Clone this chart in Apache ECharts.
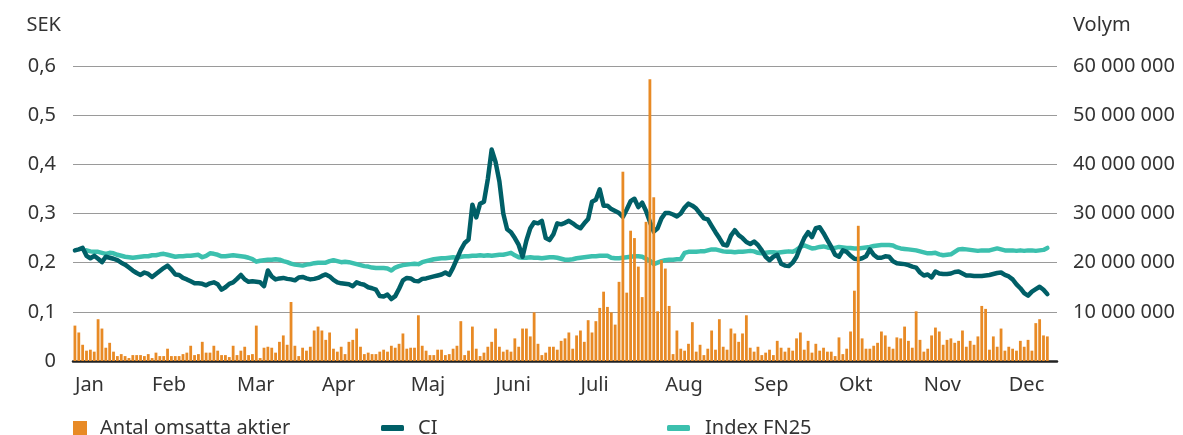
<!DOCTYPE html>
<html>
<head>
<meta charset="utf-8">
<style>
  html, body { margin: 0; padding: 0; background: #fff; }
  #chart { width: 1183px; height: 435px; }
</style>
<script src="https://cdn.jsdelivr.net/npm/echarts@6/dist/echarts.min.js"></script>
</head>
<body>
<div id="chart"></div>
<script>
// manader och index for forsta handelsdag
var monthNames = ['Jan', 'Feb', 'Mar', 'Apr', 'Maj', 'Juni', 'Juli', 'Aug', 'Sep', 'Okt', 'Nov', 'Dec'];
var monthStart = [0, 20, 42, 64, 87, 109, 131, 153, 176, 198, 220, 242];
var tradingDays = 253;
var trailingDays = 2; // dagar efter sista handelsdagen

// Antal omsatta aktier, miljoner
var volume = [
  7.2, 5.8, 3.3, 2.1, 2.3, 1.9, 8.5, 6.6, 2.7, 3.7, 1.9, 1.0, 1.4, 1.0, 0.6, 1.2, 1.2, 1.2, 1.0, 1.4, 0.6, 1.7, 1.0, 1.0, 2.5, 1.0, 1.0, 1.0, 1.4, 1.7, 3.1,
  1.2, 1.4, 3.9, 1.7, 1.7, 3.1, 2.1, 1.2, 1.2, 0.8, 3.1, 1.2, 2.1, 2.9, 1.2, 1.4, 7.2, 0.6, 2.7, 2.9, 2.7, 1.7, 3.9, 5.2, 3.3, 12.0, 3.1, 1.0, 2.7, 2.1, 2.9, 6.2, 7.0,
  6.2, 4.3, 5.8, 2.5, 1.9, 2.9, 1.4, 3.9, 4.3, 6.6, 2.9, 1.4, 1.7, 1.4, 1.4, 1.9, 2.3, 1.9, 3.1, 2.7, 3.5, 5.6, 2.5, 2.7, 2.7, 9.3, 3.1, 2.1, 1.2, 1.2, 2.3, 2.3,
  1.2, 1.4, 2.5, 3.1, 8.1, 1.2, 2.1, 7.0, 2.5, 1.0, 1.7, 2.9, 3.9, 6.6, 2.9, 1.9, 2.3, 1.9, 4.6, 2.9, 6.6, 6.6, 5.0, 9.9, 3.5, 1.2, 1.7, 2.9, 2.9, 2.3, 4.1, 4.6, 5.8,
  2.5, 5.2, 6.2, 3.9, 8.3, 5.8, 8.1, 10.8, 14.1, 11.0, 9.9, 7.4, 16.1, 38.5, 13.9, 26.5, 25.0, 19.2, 13.0, 28.3, 57.3, 33.3, 10.1, 20.5, 18.8, 11.2, 1.4, 6.2, 2.5, 2.1, 3.5, 7.9,
  1.9, 3.3, 1.2, 2.5, 6.2, 2.3, 8.5, 2.9, 2.3, 6.6, 5.6, 3.9, 5.6, 9.3, 2.7, 1.9, 2.9, 1.2, 1.7, 2.3, 1.2, 4.1, 2.7, 1.9, 2.7, 2.1, 4.6, 5.8, 2.3, 4.1, 1.7, 3.5,
  2.1, 2.7, 1.9, 1.9, 1.0, 4.8, 1.4, 2.5, 6.0, 14.3, 27.5, 4.6, 2.5, 2.5, 3.1, 3.7, 6.0, 5.2, 2.9, 2.5, 4.8, 4.6, 7.0, 4.1, 2.7, 10.1, 4.3, 1.9, 2.5, 5.2, 6.8, 6.0, 3.3,
  4.3, 4.6, 3.7, 4.1, 6.2, 2.9, 4.1, 3.3, 5.0, 11.2, 10.6, 2.3, 5.0, 2.9, 6.6, 2.1, 2.9, 2.5, 2.1, 4.1, 2.9, 4.3, 2.1, 7.7, 8.5, 5.2, 5.0
];

// CI, SEK
var ci = [
  0.225, 0.227, 0.230, 0.214, 0.209, 0.214, 0.208, 0.201, 0.212, 0.210,
  0.208, 0.205, 0.200, 0.196, 0.190, 0.184, 0.179, 0.175, 0.180, 0.177,
  0.171, 0.177, 0.183, 0.189, 0.194, 0.186, 0.176, 0.175, 0.169, 0.166,
  0.162, 0.158, 0.158, 0.157, 0.154, 0.158, 0.160, 0.156, 0.145, 0.150,
  0.157, 0.160, 0.167, 0.175, 0.166, 0.161, 0.162, 0.161, 0.160, 0.152,
  0.184, 0.172, 0.166, 0.168, 0.169, 0.167, 0.166, 0.164, 0.170, 0.171,
  0.168, 0.166, 0.167, 0.169, 0.173, 0.176, 0.172, 0.165, 0.160, 0.158,
  0.157, 0.156, 0.152, 0.160, 0.157, 0.155, 0.150, 0.148, 0.145, 0.132,
  0.131, 0.135, 0.126, 0.132, 0.147, 0.164, 0.169, 0.168, 0.163, 0.162,
  0.167, 0.168, 0.170, 0.172, 0.174, 0.176, 0.180, 0.175, 0.190, 0.208,
  0.226, 0.240, 0.247, 0.318, 0.292, 0.320, 0.324, 0.370, 0.430, 0.405,
  0.365, 0.300, 0.268, 0.262, 0.250, 0.236, 0.212, 0.245, 0.270, 0.282,
  0.280, 0.285, 0.250, 0.246, 0.258, 0.280, 0.278, 0.281, 0.285, 0.280,
  0.274, 0.270, 0.280, 0.289, 0.324, 0.328, 0.349, 0.316, 0.316, 0.309,
  0.305, 0.301, 0.293, 0.308, 0.325, 0.330, 0.313, 0.322, 0.305, 0.283,
  0.263, 0.270, 0.290, 0.301, 0.301, 0.298, 0.294, 0.300, 0.312, 0.320,
  0.316, 0.310, 0.300, 0.290, 0.288, 0.275, 0.262, 0.250, 0.237, 0.235,
  0.255, 0.266, 0.256, 0.250, 0.242, 0.238, 0.243, 0.236, 0.225, 0.212,
  0.205, 0.212, 0.216, 0.198, 0.194, 0.193, 0.200, 0.212, 0.232, 0.250,
  0.262, 0.252, 0.270, 0.272, 0.260, 0.246, 0.232, 0.216, 0.212, 0.225,
  0.222, 0.214, 0.208, 0.207, 0.209, 0.213, 0.227, 0.216, 0.210, 0.210,
  0.213, 0.212, 0.203, 0.199, 0.198, 0.197, 0.195, 0.192, 0.190, 0.180,
  0.174, 0.176, 0.170, 0.182, 0.178, 0.177, 0.177, 0.178, 0.181, 0.182,
  0.178, 0.174, 0.174, 0.173, 0.173, 0.173, 0.174, 0.175, 0.177, 0.179,
  0.180, 0.175, 0.172, 0.166, 0.156, 0.148, 0.138, 0.133, 0.141, 0.146,
  0.151, 0.145, 0.136
];

// Index FN25
var fn25 = [
  null, null, null, 0.225, 0.223, 0.222, 0.222, 0.220, 0.218, 0.220,
  0.219, 0.216, 0.214, 0.212, 0.211, 0.210, 0.211, 0.212, 0.213, 0.213,
  0.215, 0.215, 0.217, 0.218, 0.216, 0.214, 0.212, 0.213, 0.213, 0.214,
  0.214, 0.215, 0.216, 0.211, 0.214, 0.219, 0.218, 0.216, 0.213, 0.213,
  0.214, 0.215, 0.214, 0.213, 0.212, 0.210, 0.207, 0.202, 0.204, 0.205,
  0.206, 0.206, 0.207, 0.206, 0.203, 0.201, 0.198, 0.196, 0.195, 0.194,
  0.196, 0.197, 0.199, 0.200, 0.200, 0.200, 0.203, 0.205, 0.203, 0.201,
  0.202, 0.201, 0.199, 0.197, 0.195, 0.193, 0.192, 0.190, 0.189, 0.189,
  0.189, 0.188, 0.184, 0.190, 0.193, 0.195, 0.196, 0.197, 0.198, 0.197,
  0.201, 0.203, 0.205, 0.207, 0.208, 0.209, 0.209, 0.210, 0.211, 0.210,
  0.212, 0.213, 0.213, 0.214, 0.214, 0.215, 0.214, 0.215, 0.214, 0.215,
  0.216, 0.216, 0.218, 0.220, 0.215, 0.211, 0.210, 0.210, 0.211, 0.210,
  0.210, 0.209, 0.210, 0.211, 0.211, 0.210, 0.208, 0.206, 0.206, 0.207,
  0.209, 0.210, 0.211, 0.212, 0.213, 0.213, 0.214, 0.214, 0.214, 0.210,
  0.209, 0.209, 0.210, 0.211, 0.212, 0.213, 0.213, 0.212, 0.208, 0.204,
  0.197, 0.200, 0.203, 0.205, 0.206, 0.206, 0.207, 0.207, 0.220, 0.222,
  0.222, 0.222, 0.223, 0.223, 0.225, 0.227, 0.227, 0.225, 0.223, 0.222,
  0.222, 0.221, 0.222, 0.222, 0.223, 0.224, 0.223, 0.220, 0.219, 0.220,
  0.221, 0.221, 0.220, 0.221, 0.222, 0.223, 0.222, 0.226, 0.232, 0.235,
  0.232, 0.229, 0.230, 0.232, 0.233, 0.231, 0.230, 0.230, 0.232, 0.231,
  0.230, 0.230, 0.229, 0.229, 0.230, 0.231, 0.232, 0.234, 0.235, 0.236,
  0.236, 0.236, 0.235, 0.231, 0.229, 0.228, 0.227, 0.226, 0.225, 0.223,
  0.221, 0.219, 0.219, 0.220, 0.217, 0.215, 0.216, 0.217, 0.222, 0.227,
  0.228, 0.227, 0.226, 0.225, 0.224, 0.225, 0.225, 0.225, 0.227, 0.229,
  0.227, 0.225, 0.225, 0.225, 0.224, 0.225, 0.224, 0.225, 0.225, 0.224,
  0.225, 0.226, 0.230
];

var sekTicks = { min: 0, max: 0.6, interval: 0.1 };
var volTicks = { min: 0, max: 60, interval: 10 };

// kategorier: manadsnamn pa forsta handelsdagen
var days = [];
for (var i = 0; i < tradingDays + trailingDays; i++) {
  var k = monthStart.indexOf(i);
  days.push(k >= 0 ? monthNames[k] : '');
}

var fontFamily = '"Noto Sans", Lato, sans-serif';
var textColor = '#333333';

var myChart = echarts.init(document.getElementById('chart'));
var option = {
  animation: false,
  textStyle: { fontFamily: fontFamily, color: textColor },
  grid: { left: 73, right: 126, top: 66, bottom: 74 },
  legend: [
    {
      data: [{ name: 'Antal omsatta aktier', icon: 'rect' }],
      left: 73, top: 418, padding: 0, itemWidth: 14, itemHeight: 14,
      textStyle: { fontSize: 20, color: textColor, fontFamily: fontFamily, padding: [0, 0, 0, 8] }
    },
    {
      data: [{ name: 'CI', icon: 'roundRect' }],
      left: 381, top: 418, padding: 0, itemWidth: 23, itemHeight: 6,
      textStyle: { fontSize: 20, color: textColor, fontFamily: fontFamily, padding: [0, 0, 0, 9] }
    },
    {
      data: [{ name: 'Index FN25', icon: 'roundRect' }],
      left: 667, top: 418, padding: 0, itemWidth: 23, itemHeight: 6,
      textStyle: { fontSize: 20, color: textColor, fontFamily: fontFamily, padding: [0, 0, 0, 10] }
    }
  ],
  xAxis: {
    type: 'category',
    data: days,
    boundaryGap: true,
    axisLine: { lineStyle: { color: '#222222', width: 2.5 } },
    axisTick: { show: false },
    axisLabel: {
      interval: 0, align: 'left', margin: 14,
      fontSize: 20, color: textColor, fontFamily: fontFamily
    }
  },
  yAxis: [
    {
      type: 'value',
      min: sekTicks.min, max: sekTicks.max, interval: sekTicks.interval,
      name: 'SEK', nameLocation: 'end', nameGap: 41,
      nameTextStyle: { fontSize: 20, color: textColor, fontFamily: fontFamily, align: 'right', verticalAlign: 'middle', padding: [0, 12, 0, 0] },
      axisLine: { show: false },
      axisTick: { show: false },
      axisLabel: {
        margin: 17, fontSize: 20, color: textColor, fontFamily: fontFamily,
        formatter: function (v) { return v === 0 ? '0' : v.toFixed(1).replace('.', ','); }
      },
      splitLine: { lineStyle: { color: '#9a9a9a', width: 1 } }
    },
    {
      type: 'value',
      min: volTicks.min, max: volTicks.max, interval: volTicks.interval,
      name: 'Volym', nameLocation: 'end', nameGap: 41,
      nameTextStyle: { fontSize: 20, color: textColor, fontFamily: fontFamily, align: 'left', verticalAlign: 'middle', padding: [0, 0, 0, 16] },
      axisLine: { show: false },
      axisTick: { show: false },
      axisLabel: {
        margin: 16, fontSize: 20, color: textColor, fontFamily: fontFamily,
        formatter: function (v) { return v === 0 ? '' : v + ' 000 000'; }
      },
      splitLine: { show: false }
    }
  ],
  series: [
    {
      name: 'Index FN25', type: 'line', yAxisIndex: 0, data: fn25,
      symbol: 'none', z: 2,
      lineStyle: { color: '#3cc0ae', width: 4.5, join: 'round', cap: 'round' },
      itemStyle: { color: '#3cc0ae' }
    },
    {
      name: 'CI', type: 'line', yAxisIndex: 0, data: ci,
      symbol: 'none', z: 3,
      lineStyle: { color: '#005f67', width: 4.5, join: 'round', cap: 'round' },
      itemStyle: { color: '#005f67' }
    },
    {
      name: 'Antal omsatta aktier', type: 'bar', yAxisIndex: 1, data: volume,
      barWidth: 2.8, z: 4,
      itemStyle: { color: '#e88a25' }
    }
  ]
};
myChart.setOption(option);
</script>
</body>
</html>
